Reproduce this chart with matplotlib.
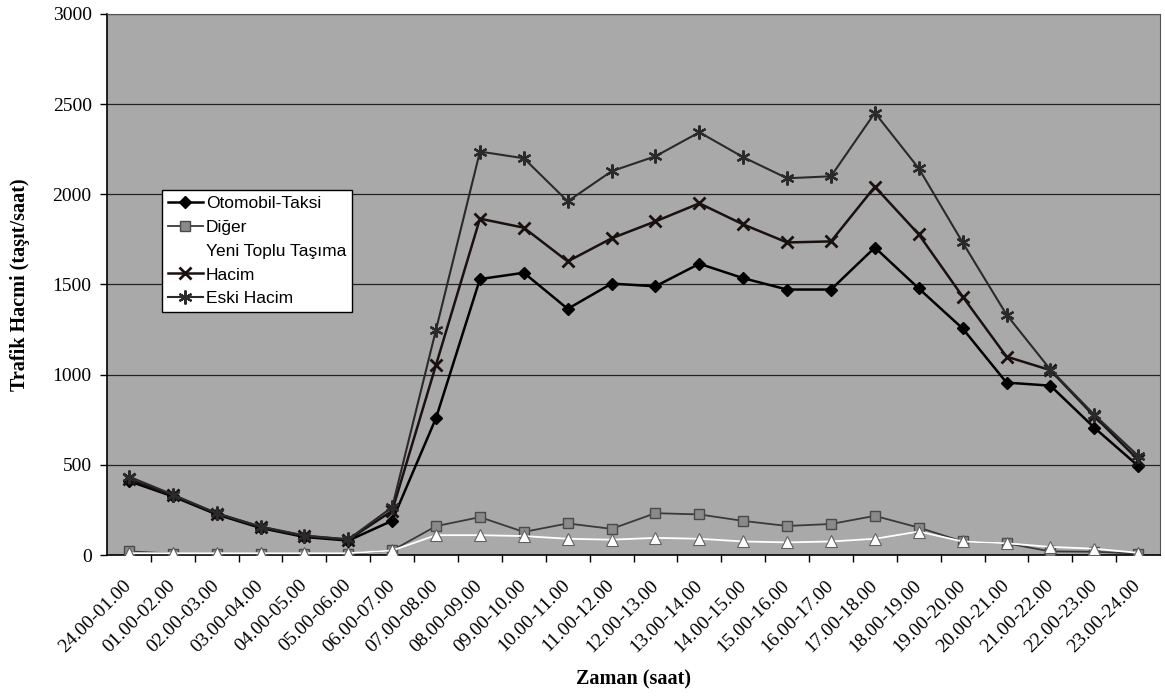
import numpy as np
import matplotlib.pyplot as plt
import matplotlib.transforms as mtransforms
from matplotlib.ticker import FixedLocator, NullFormatter

hours = ["24.00-01.00", "01.00-02.00", "02.00-03.00", "03.00-04.00",
         "04.00-05.00", "05.00-06.00", "06.00-07.00", "07.00-08.00",
         "08.00-09.00", "09.00-10.00", "10.00-11.00", "11.00-12.00",
         "12.00-13.00", "13.00-14.00", "14.00-15.00", "15.00-16.00",
         "16.00-17.00", "17.00-18.00", "18.00-19.00", "19.00-20.00",
         "20.00-21.00", "21.00-22.00", "22.00-23.00", "23.00-24.00"]

otomobil = [410, 325, 225, 150, 100, 80, 190, 760, 1530, 1565, 1365, 1505,
            1490, 1615, 1535, 1472, 1472, 1705, 1478, 1256, 956, 939, 706, 494]
diger = [20, 8, 8, 8, 8, 8, 25, 160, 210, 128, 175, 145,
         232, 225, 189, 161, 172, 217, 152, 75, 65, 20, 18, 8]
yeni_toplu = [10, 10, 10, 10, 10, 10, 25, 110, 110, 105, 90, 85,
              95, 90, 75, 70, 75, 90, 130, 75, 65, 45, 35, 12]
hacim = [420, 330, 230, 155, 105, 85, 245, 1055, 1865, 1815, 1628, 1756,
         1850, 1950, 1833, 1733, 1739, 2042, 1778, 1433, 1100, 1025, 770, 528]
eski_hacim = [435, 335, 232, 158, 108, 87, 265, 1250, 2237, 2200, 1961, 2128,
              2211, 2344, 2206, 2089, 2100, 2452, 2144, 1733, 1333, 1028, 778, 550]

serif = "Liberation Serif"
sans = "Liberation Sans"

fig = plt.figure(figsize=(11.65, 6.99), dpi=100)
ax = fig.add_axes([0.0918, 0.206, 0.904, 0.774])
ax.set_facecolor("#a9a9a9")

x = np.arange(len(hours))
ax.plot(x, otomobil, color="black", lw=1.8, marker="D", ms=6,
        mfc="black", mec="black", label="Otomobil-Taksi", zorder=5)
ax.plot(x, diger, color="#3a3a3a", lw=1.3, marker="s", ms=7,
        mfc="#8a8a8a", mec="#4a4a4a", label="Diğer", zorder=4)
ax.plot(x, yeni_toplu, color="white", lw=1.3, marker="^", ms=8,
        mfc="white", mec="#606060", mew=0.8, label="Yeni Toplu Taşıma", zorder=4)
ax.plot(x, hacim, color="#1a1010", lw=1.8, marker="x", ms=9, mew=2,
        mfc="black", mec="#1a1010", label="Hacim", zorder=5)
ax.plot(x, eski_hacim, color="#2a2a2a", lw=1.5, marker=(6, 2, 0), ms=10, mew=1.6,
        mec="#2a2a2a", label="Eski Hacim", zorder=5)

ax.set_xlim(-0.5, len(hours) - 0.5)
ax.set_ylim(0, 3000)
ax.set_yticks(np.arange(0, 3001, 500))
ax.yaxis.grid(True, color="#222222", lw=0.9)
ax.set_axisbelow(True)

# category labels at centres, tick marks at category boundaries
ax.set_xticks(x)
ax.set_xticklabels(hours, rotation=45, ha="right", va="center",
                   rotation_mode="anchor", fontfamily=serif, fontsize=14)
shift = mtransforms.ScaledTranslation(-9 / 100, 0, fig.dpi_scale_trans)
for lab in ax.get_xticklabels():
    lab.set_transform(lab.get_transform() + shift)
ax.tick_params(axis="x", which="major", length=0, pad=20)
ax.xaxis.set_minor_locator(FixedLocator(np.arange(0.5, len(hours) - 0.5, 1)))
ax.xaxis.set_minor_formatter(NullFormatter())
ax.tick_params(axis="x", which="minor", length=5, width=1, direction="out")
ax.tick_params(axis="y", length=5, width=1, direction="out", pad=6)
for lab in ax.get_yticklabels():
    lab.set_fontfamily(serif)
    lab.set_fontsize(14)

for side in ["left", "bottom"]:
    ax.spines[side].set_color("black")
    ax.spines[side].set_linewidth(1.2)
for side in ["top", "right"]:
    ax.spines[side].set_color("#555555")
    ax.spines[side].set_linewidth(0.8)

ax.set_xlabel("Zaman (saat)", fontfamily=serif, fontweight="bold",
              fontsize=14.5, labelpad=10)
ax.set_ylabel("Trafik Hacmi (taşıt/saat)", fontfamily=serif, fontweight="bold",
              fontsize=14.5, va="center")
ax.yaxis.set_label_coords(-0.083, 0.5)

leg = ax.legend(loc="upper left", bbox_to_anchor=(0.052, 0.675),
                prop={"family": sans, "size": 12.5}, frameon=True,
                fancybox=False, framealpha=1, edgecolor="black",
                borderpad=0.35, labelspacing=0.5, handlelength=2.0,
                handletextpad=0.2, borderaxespad=0)
leg.get_frame().set_linewidth(1.0)
# the white series has no visible key on the white legend box
yeni_key = leg.legend_handles[2]
yeni_key.set_markeredgecolor("white")

fig.savefig("out.png", dpi=100)
